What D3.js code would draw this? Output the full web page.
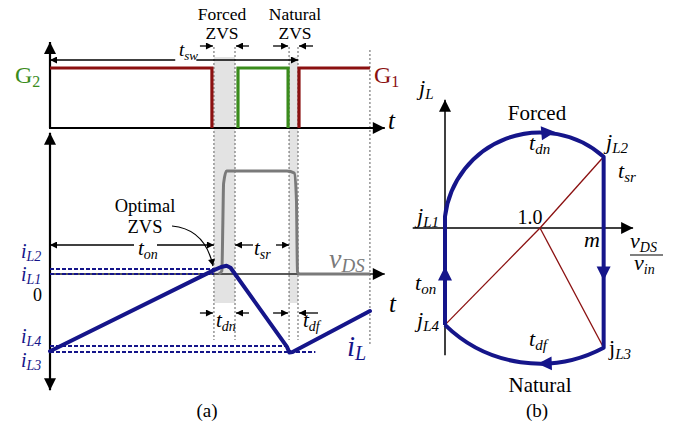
<!DOCTYPE html>
<html>
<head>
<meta charset="utf-8">
<script src="https://cdn.jsdelivr.net/npm/d3@7"></script>
<style>
  body { margin: 0; background: #fff; }
  svg { display: block; }
  svg text { font-family: "Liberation Serif", "Tinos", "DejaVu Serif", serif; }
</style>
</head>
<body>
<svg id="chart" width="685" height="428" font-family="Liberation Serif, Tinos, DejaVu Serif, serif"></svg>
<script>
// ---------- data (a): time normalised to the switching period t_sw = 1 ----------
const g1High = [[[0, 1], [0.653, 1], [0.653, 0]], [[1.004, 0], [1.004, 1], [1.29, 1]]];
const g2High = [[0.758, 0], [0.758, 1], [0.960, 1], [0.960, 0]];
const markerTimes = [0.661, 0.746, 0.964, 1.0, 1.29];
const deadBands = [[0.661, 0.746], [0.964, 1.0]];
const iLevels = [0.064, 0, -0.923, -1.0];            // iL2, iL1, iL4, iL3
const iLevelEnds = [0.665, 0.661, 0.956, 1.07];
const iTrace = [[0, -0.99], [0.661, 0.05], [0.690, 0.09], [0.712, 0.105], [0.728, 0.08],
                [0.955, -0.93], [0.965, -1.005], [0.978, -1.0], [1.29, -0.474]];
const vdsTrace = [[0.680, 0], [0.693, 0.03], [0.697, 0.5], [0.700, 0.88], [0.712, 1], [0.74, 1],
                  [0.955, 1], [0.985, 0.98], [0.994, 0.7], [0.996, 0.3], [0.998, 0.02], [1.005, 0], [1.29, 0]];

// ---------- data (b): normalised state plane ----------
const planeCenter = [1.0, 0];
const jL1 = [0, 0.12], jL2 = [1.67, 0.75], jL3 = [1.67, -1.26], jL4 = [0, -1.02];

const NAVY = "#15158a", RED = "#8b1010", GREEN = "#3a8c1c", GREY = "#7a7a7a";
const FONT = "Liberation Serif, Tinos, DejaVu Serif, serif";

const svg = d3.select("#chart");
svg.append("rect").attr("width", 685).attr("height", 428).attr("fill", "#fff");

const defs = svg.append("defs");
function tri(id, w, h, color) {
  defs.append("marker").attr("id", id).attr("viewBox", "0 0 10 10")
    .attr("refX", 10).attr("refY", 5).attr("markerWidth", w).attr("markerHeight", h)
    .attr("markerUnits", "userSpaceOnUse").attr("orient", "auto-start-reverse")
    .append("path").attr("d", "M0,0L10,5L0,10z").attr("fill", color);
}
tri("arr", 9, 7, "#000");
tri("big", 13, 12, "#000");

function sublabel(x, y, main, sub, o) {
  o = Object.assign({ size: 20, subSize: 14, color: "#000", italic: true, subItalic: true, anchor: "start", dy: 5 }, o || {});
  const t = svg.append("text").attr("x", x).attr("y", y).attr("fill", o.color)
    .attr("font-family", FONT).attr("text-anchor", o.anchor).attr("font-size", o.size);
  t.append("tspan").text(main).attr("font-style", o.italic ? "italic" : "normal");
  if (sub) t.append("tspan").text(sub).attr("font-size", o.subSize).attr("dy", o.dy)
    .attr("font-style", o.subItalic ? "italic" : "normal");
  return t;
}
function plain(x, y, s, size, anchor) {
  return svg.append("text").attr("x", x).attr("y", y).attr("font-size", size || 18)
    .attr("font-family", FONT).attr("text-anchor", anchor || "middle").text(s);
}
function dimArrow(x1, x2, y) {   // small arrow pointing from x1 to x2
  svg.append("line").attr("x1", x1).attr("x2", x2).attr("y1", y).attr("y2", y)
    .attr("stroke", "#000").attr("stroke-width", 1.3).attr("marker-end", "url(#arr)");
}

// ---------- scales (a) ----------
const tX = d3.scaleLinear().domain([0, 1]).range([50, 298]);
const gY = d3.scaleLinear().domain([0, 1]).range([128, 68]);
const iY = d3.scaleLinear().domain([-1, 0]).range([352, 274]);
const vY = d3.scaleLinear().domain([0, 1]).range([274, 171]);

// dead-time shading
deadBands.forEach(b => {
  svg.append("rect").attr("x", tX(b[0])).attr("width", tX(b[1]) - tX(b[0]))
    .attr("y", 57).attr("height", 246).attr("fill", "#e3e3e3");
});
// dotted time markers
markerTimes.forEach((t, k) => {
  svg.append("line").attr("x1", tX(t)).attr("x2", tX(t))
    .attr("y1", k === 4 ? 50 : 47).attr("y2", k === 4 ? 345 : 340)
    .attr("stroke", GREY).attr("stroke-width", 1.2).attr("stroke-dasharray", "2,2");
});

// gate axes
svg.append("line").attr("x1", tX(0)).attr("x2", tX(0)).attr("y1", gY(0)).attr("y2", gY(1.433))
  .attr("stroke", "#000").attr("stroke-width", 2.2).attr("marker-end", "url(#big)");
svg.append("line").attr("x1", tX(0) - 1).attr("x2", tX(1.35)).attr("y1", gY(0)).attr("y2", gY(0))
  .attr("stroke", "#000").attr("stroke-width", 2.2).attr("marker-end", "url(#big)");
sublabel(388, 129, "t", null, { size: 25 });

// gate signals
const gLine = d3.line().x(d => tX(d[0])).y(d => gY(d[1]));
g1High.forEach(seg => svg.append("path").attr("d", gLine(seg)).attr("fill", "none")
  .attr("stroke", RED).attr("stroke-width", 3.2));
svg.append("path").attr("d", gLine(g2High)).attr("fill", "none")
  .attr("stroke", GREEN).attr("stroke-width", 3.2);
sublabel(15, 83, "G", "2", { size: 24, subSize: 16, color: GREEN, italic: false, subItalic: false, dy: 4 });
sublabel(374, 83, "G", "1", { size: 24, subSize: 16, color: RED, italic: false, subItalic: false, dy: 4 });

// t_sw dimension
svg.append("line").attr("x1", tX(0.505)).attr("x2", tX(0)).attr("y1", 60).attr("y2", 60)
  .attr("stroke", "#000").attr("stroke-width", 1.3).attr("marker-end", "url(#arr)");
svg.append("line").attr("x1", tX(0.59)).attr("x2", tX(1.0)).attr("y1", 60).attr("y2", 60)
  .attr("stroke", "#000").attr("stroke-width", 1.3).attr("marker-end", "url(#arr)");
sublabel(179, 56, "t", "sw", { size: 19, subSize: 13, dy: 4 });

// dead-time headings
plain(222, 20, "Forced", 17.5); plain(222, 39, "ZVS", 17.5);
plain(295, 20, "Natural", 17.5); plain(295, 39, "ZVS", 17.5);
dimArrow(tX(0.661) - 14, tX(0.661) - 1, 46);
dimArrow(tX(0.746) + 14, tX(0.746) + 1, 46);
dimArrow(tX(0.964) - 16, tX(0.964) - 1, 46);
dimArrow(tX(1.0) + 15, tX(1.0) + 1, 46);

// lower axes
svg.append("line").attr("x1", tX(0)).attr("x2", tX(0)).attr("y1", iY(-1.49)).attr("y2", iY(1.81))
  .attr("stroke", "#000").attr("stroke-width", 2.2).attr("marker-end", "url(#big)")
  .attr("marker-start", "url(#big)");
svg.append("line").attr("x1", tX(0)).attr("x2", tX(1.35)).attr("y1", iY(0)).attr("y2", iY(0))
  .attr("stroke", "#222").attr("stroke-width", 1.5).attr("marker-end", "url(#big)");
sublabel(389, 312, "t", null, { size: 25 });

// current levels
iLevels.forEach((v, k) => {
  svg.append("line").attr("x1", tX(0)).attr("x2", tX(iLevelEnds[k])).attr("y1", iY(v)).attr("y2", iY(v))
    .attr("stroke", NAVY).attr("stroke-width", 2).attr("stroke-dasharray", "4,2");
});
sublabel(21, 258, "i", "L2", { size: 20, subSize: 14, color: NAVY, dy: 3 });
sublabel(21, 281, "i", "L1", { size: 20, subSize: 14, color: NAVY, dy: 3 });
plain(42, 301, "0", 18, "end");
sublabel(21, 343, "i", "L4", { size: 20, subSize: 14, color: NAVY, dy: 3 });
sublabel(21, 367, "i", "L3", { size: 20, subSize: 14, color: NAVY, dy: 3 });

// drain-source voltage
const vLine = d3.line().x(d => tX(d[0])).y(d => vY(d[1])).curve(d3.curveMonotoneX);
svg.append("path").attr("d", vLine(vdsTrace)).attr("fill", "none")
  .attr("stroke", GREY).attr("stroke-width", 3).attr("stroke-linejoin", "round");
sublabel(329, 268, "v", "DS", { size: 28, subSize: 19, color: GREY, dy: 4 });

// inductor current
const iLine = d3.line().x(d => tX(d[0])).y(d => iY(d[1]));
svg.append("path").attr("d", iLine(iTrace)).attr("fill", "none")
  .attr("stroke", NAVY).attr("stroke-width", 4).attr("stroke-linejoin", "round").attr("stroke-linecap", "round");
sublabel(347, 356, "i", "L", { size: 29, subSize: 20, color: NAVY, dy: 4 });

// t_on and t_sr dimensions
function spanArrow(t1, t2, y, gap1, gap2) {
  svg.append("line").attr("x1", gap1).attr("x2", tX(t1)).attr("y1", y).attr("y2", y)
    .attr("stroke", "#000").attr("stroke-width", 1.3).attr("marker-end", "url(#arr)");
  svg.append("line").attr("x1", gap2).attr("x2", tX(t2)).attr("y1", y).attr("y2", y)
    .attr("stroke", "#000").attr("stroke-width", 1.3).attr("marker-end", "url(#arr)");
}
spanArrow(0, 0.661, 245, 134, 157);
sublabel(138, 255, "t", "on", { size: 21, subSize: 14, dy: 4 });
spanArrow(0.746, 0.964, 245, 253, 276);
sublabel(254, 255, "t", "sr", { size: 21, subSize: 14, dy: 4 });

// optimal ZVS callout
plain(145, 212, "Optimal", 18.5); plain(145, 233, "ZVS", 18.5);
svg.append("path").attr("d", "M172,226 Q205,229 213,266").attr("fill", "none")
  .attr("stroke", "#000").attr("stroke-width", 1.2).attr("marker-end", "url(#arr)");

// t_dn and t_df
dimArrow(tX(0.661) - 14, tX(0.661) - 1, 313);
dimArrow(tX(0.746) + 14, tX(0.746) + 1, 313);
sublabel(216, 327, "t", "dn", { size: 21, subSize: 14, dy: 4 });
dimArrow(tX(0.964) - 16, tX(0.964) - 1, 313);
dimArrow(tX(1.0) + 20, tX(1.0) + 1, 313);
sublabel(303, 327, "t", "df", { size: 21, subSize: 14, dy: 4 });

plain(207, 417, "(a)", 19);

// ---------- state plane (b) ----------
const pX = d3.scaleLinear().domain([0, 1]).range([445, 540]);
const pY = d3.scaleLinear().domain([0, 1]).range([228, 133]);
const P = d => [pX(d[0]), pY(d[1])];

svg.append("line").attr("x1", pX(-0.34)).attr("x2", pX(1.98)).attr("y1", pY(0)).attr("y2", pY(0))
  .attr("stroke", "#000").attr("stroke-width", 1.5).attr("marker-end", "url(#big)");
svg.append("line").attr("x1", pX(0)).attr("x2", pX(0)).attr("y1", pY(-1.34)).attr("y2", pY(1.35))
  .attr("stroke", "#000").attr("stroke-width", 1.5).attr("marker-end", "url(#big)");

// radial lines from the resonant centre
const c = P(planeCenter);
[jL2, jL3, jL4].forEach(p => {
  const q = P(p);
  svg.append("line").attr("x1", c[0]).attr("y1", c[1]).attr("x2", q[0]).attr("y2", q[1])
    .attr("stroke", RED).attr("stroke-width", 1.3);
});

// trajectory
const dist = (a, b) => Math.hypot(a[0] - b[0], a[1] - b[1]);
const a1 = P(jL1), a2 = P(jL2), a3 = P(jL3), a4 = P(jL4);
const rF = Math.max(dist(c, a1), dist(c, a2));
const rN = Math.max(dist(c, a3), dist(c, a4));
const traj = `M${a4[0]},${a4[1]} L${a1[0]},${a1[1]} A${rF},${rF} 0 0 1 ${a2[0]},${a2[1]} ` +
             `L${a3[0]},${a3[1]} A${rN},${rN} 0 0 1 ${a4[0]},${a4[1]}`;
svg.append("path").attr("d", traj).attr("fill", "none").attr("stroke", NAVY)
  .attr("stroke-width", 4).attr("stroke-linejoin", "round");

// direction arrowheads
function headAt(x, y, ang) {
  svg.append("path").attr("d", "M7,0 L-7,-7 L-7,7 Z").attr("fill", NAVY)
    .attr("transform", `translate(${x},${y}) rotate(${ang})`);
}
const thF = 85 * Math.PI / 180, thN = -88 * Math.PI / 180;
headAt(c[0] + rF * Math.cos(thF), c[1] - rF * Math.sin(thF), -5);
headAt(c[0] + rN * Math.cos(thN), c[1] - rN * Math.sin(thN), 178);
headAt(pX(1.67), pY(-0.48), 90);
headAt(pX(0), pY(-0.48), -90);

// state plane labels
plain(537, 120, "Forced", 21);
plain(540, 392, "Natural", 21);
plain(537, 417, "(b)", 19);
sublabel(419, 95, "j", "L", { size: 22, subSize: 15, dy: 4 });
sublabel(529, 150, "t", "dn", { size: 22, subSize: 15, dy: 4 });
sublabel(606, 149, "j", "L2", { size: 22, subSize: 15, dy: 4 });
sublabel(618, 178, "t", "sr", { size: 22, subSize: 15, dy: 4 });
sublabel(417, 223, "j", "L1", { size: 22, subSize: 15, dy: 4 });
plain(530, 224, "1.0", 20);
sublabel(584, 247, "m", null, { size: 22 });
sublabel(630, 248, "v", "DS", { size: 22, subSize: 14, dy: 4 });
svg.append("line").attr("x1", 630).attr("x2", 663).attr("y1", 255).attr("y2", 255)
  .attr("stroke", "#000").attr("stroke-width", 1);
sublabel(634, 270, "v", "in", { size: 22, subSize: 14, dy: 4 });
sublabel(415, 290, "t", "on", { size: 22, subSize: 15, dy: 4 });
sublabel(417, 327, "j", "L4", { size: 22, subSize: 15, dy: 4 });
sublabel(529, 346, "t", "df", { size: 22, subSize: 15, dy: 4 });
sublabel(609, 355, "j", "L3", { size: 22, subSize: 15, italic: false, dy: 4 });
</script>
</body>
</html>
